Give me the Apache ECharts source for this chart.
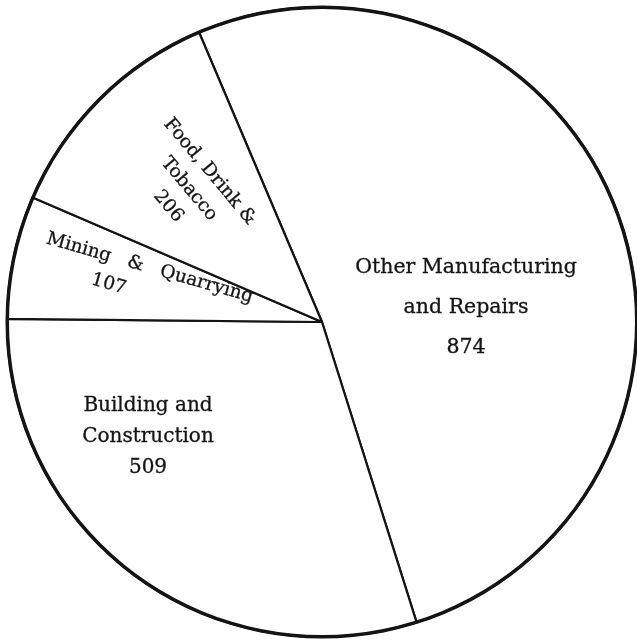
<!DOCTYPE html>
<html>
<head>
<meta charset="utf-8">
<script src="https://cdn.jsdelivr.net/npm/echarts@6/dist/echarts.min.js"></script>
<style>
html,body{margin:0;padding:0;background:#fff;}
#chart{width:637px;height:642px;}
</style>
</head>
<body>
<div id="chart"></div>
<script>
// Data (order drawn clockwise from the upper boundary line)
const categories = [
  'Other Manufacturing and Repairs',
  'Building and Construction',
  'Mining & Quarrying',
  'Food, Drink & Tobacco'
];
const values = [874, 509, 107, 206];
// label text lines as printed on the chart
const labelLines = [
  ['Other Manufacturing', 'and Repairs'],
  ['Building and', 'Construction'],
  ['Mining   &   Quarrying'],
  ['Food, Drink &', 'Tobacco']
];

// label placement / style (layout, not data)
const labelPlace = [
  { x: 466, y: 308, rotate: 0, fontSize: 20.5, lineHeight: 40 },
  { x: 148, y: 437, rotate: 0, fontSize: 20, lineHeight: 31 },
  { x: 146, y: 281, rotate: -16, fontSize: 18.5, lineHeight: 27 },
  { x: 189, y: 189, rotate: -50, fontSize: 18.5, lineHeight: 27 }
];

const total = values.reduce((a, b) => a + b, 0);
const FONT = 'DejaVu Serif';

const chart = echarts.init(document.getElementById('chart'), null, { renderer: 'canvas' });

const pieData = categories.map((name, i) => {
  const base = { fontSize: labelPlace[i].fontSize, lineHeight: labelPlace[i].lineHeight, fontFamily: FONT, color: '#141414', textBorderColor: '#141414', textBorderWidth: 0.3 };
  return {
    name: name,
    value: values[i],
    label: {
      fontSize: labelPlace[i].fontSize,
      lineHeight: labelPlace[i].lineHeight,
      rich: {
        n: base,
        shift: Object.assign({}, base, { padding: [0, 70, 0, 0] })
      }
    }
  };
});

chart.setOption({
  backgroundColor: '#ffffff',
  animation: false,
  series: [
    {
      type: 'pie',
      center: [322, 322],
      radius: 315,
      startAngle: 113,
      clockwise: true,
      avoidLabelOverlap: false,
      silent: true,
      itemStyle: { color: '#ffffff', borderColor: '#141414', borderWidth: 2.2 },
      emphasis: { disabled: true },
      labelLine: { show: false },
      label: {
        show: true,
        position: 'inside',
        fontFamily: FONT,
        color: '#141414',
        formatter: function (p) {
          const i = p.dataIndex;
          const lines = labelLines[i].map(s => '{n|' + s + '}');
          const style = (i === 2) ? 'shift' : 'n';
          lines.push('{' + style + '|' + p.value + '}');
          return lines.join('\n');
        }
      },
      labelLayout: function (params) {
        const pl = labelPlace[params.dataIndex];
        return { x: pl.x, y: pl.y, rotate: pl.rotate, align: 'center', verticalAlign: 'middle' };
      },
      data: pieData
    },
    {
      type: 'pie',
      center: [322, 322],
      radius: [313, 316.5],
      silent: true,
      label: { show: false },
      labelLine: { show: false },
      itemStyle: { color: '#141414' },
      emphasis: { disabled: true },
      data: [{ name: 'outline', value: total }]
    }
  ]
});
</script>
</body>
</html>
